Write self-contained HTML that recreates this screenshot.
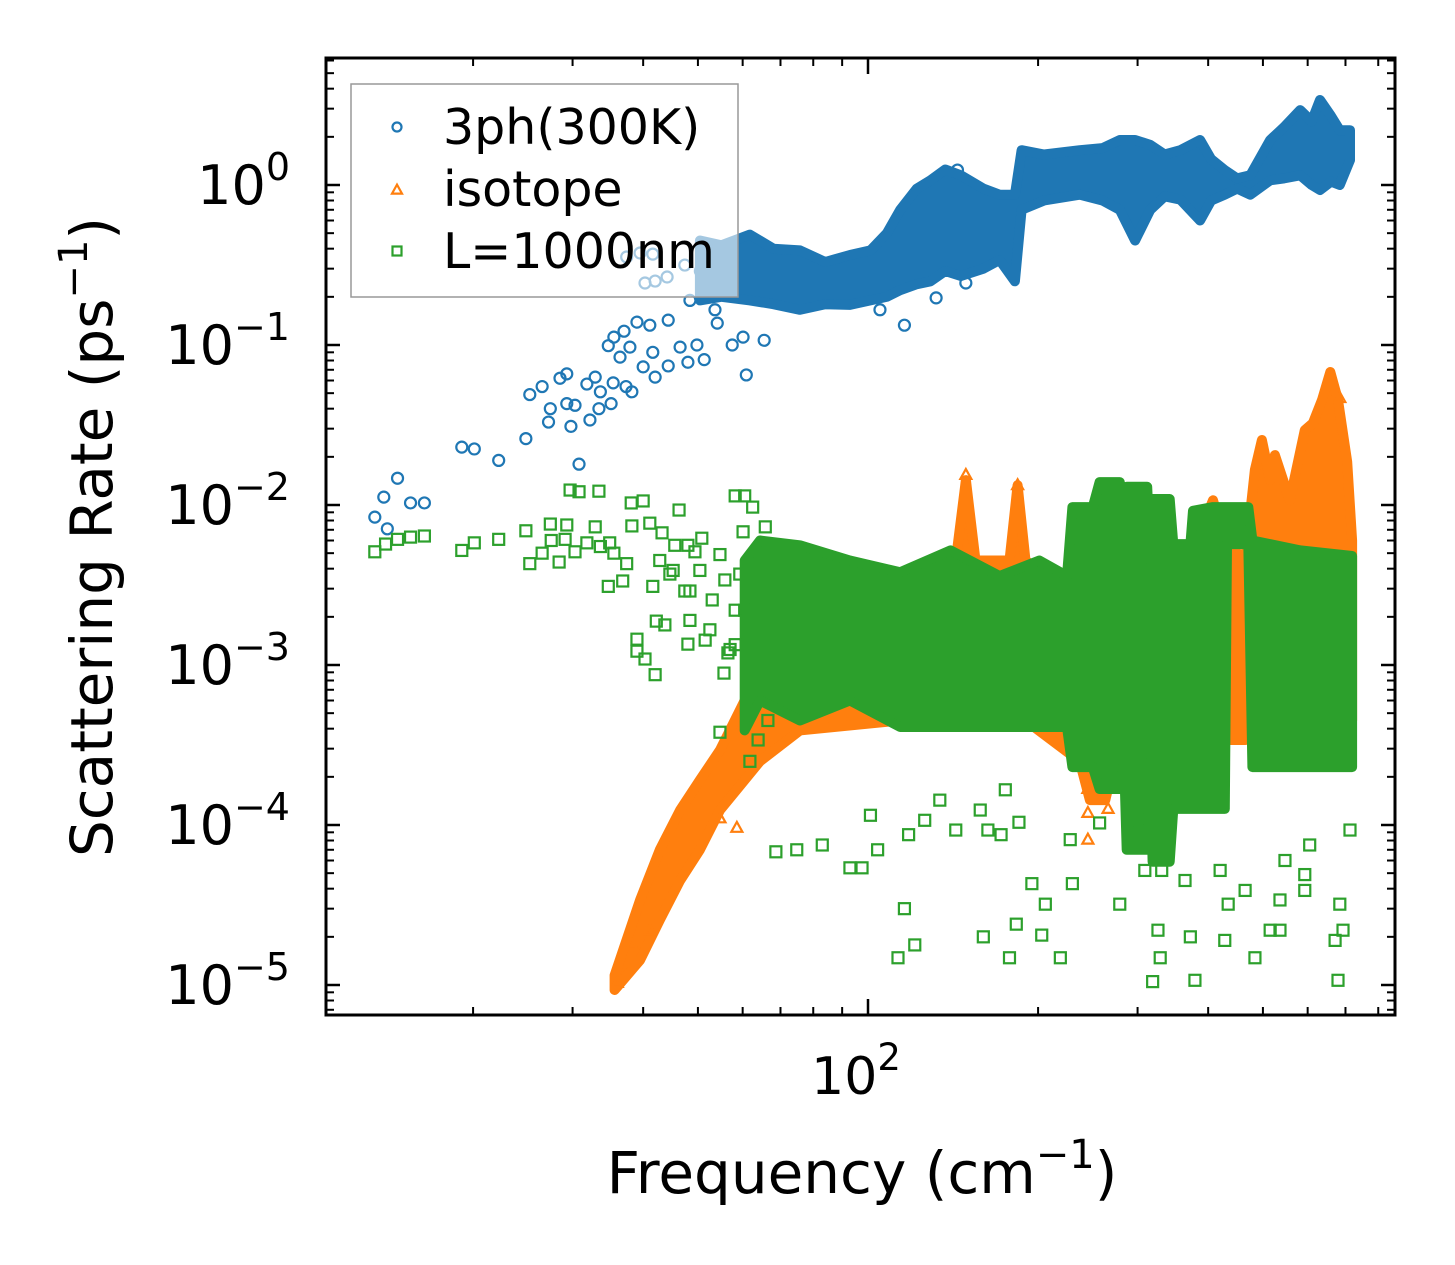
<!DOCTYPE html>
<html><head><meta charset="utf-8"><style>
html,body{margin:0;padding:0;background:#fff;}
svg{display:block;font-family:"DejaVu Sans","Liberation Sans",sans-serif;}
</style></head><body>
<svg id="chart" width="1455" height="1265" viewBox="0 0 1455 1265" xmlns="http://www.w3.org/2000/svg">
<rect width="1455" height="1265" fill="#fff"/>
<g id="plot"></g>
<g id="axes"></g>
<g id="legend"></g>
</svg>
<script>
// ---- tick data ----
const yMajorExps = [0, -1, -2, -3, -4, -5];
const xMajorVals = [100];
const xMinorVals = [20,30,40,50,60,70,80,90,200,300,400,500,600,700,800];

// ---- 3ph(300K): dense band (freq, low, high) ----
const blueBandF  = [50.4,55.0,61.8,68.0,75.8,84.0,92.9,101,108,114,122,129,137,146,160,171,182,187,205,237,260,279,297,316,335,357,387,405,428,450,475,515,545,582,610,631,660,684,713];
const blueBandHi = [0.45,0.42,0.49,0.40,0.39,0.33,0.365,0.39,0.50,0.70,0.95,1.07,1.25,1.15,0.95,0.87,0.87,1.65,1.55,1.65,1.70,1.91,1.91,1.78,1.55,1.65,1.91,1.45,1.24,1.10,1.15,1.91,2.30,2.94,2.50,3.4,2.7,2.2,2.2];
const blueBandLo = [0.19,0.20,0.19,0.18,0.166,0.18,0.178,0.19,0.20,0.22,0.24,0.25,0.29,0.27,0.30,0.34,0.25,0.70,0.80,0.87,0.80,0.70,0.45,0.70,0.85,0.81,0.60,0.80,0.87,0.95,0.87,1.07,1.10,1.15,1.00,0.93,1.05,1.0,1.43];
// ---- 3ph(300K): sparse points ----
const blueF = [13.4,14.1,13.9,14.7,15.5,16.4,19.1,20.1,22.2,24.8,25.2,26.5,30.8,27.2,27.4,29.3,30.3,29.8,32.2,33.4,35.1,28.5,29.3,31.8,32.9,33.6,35.4,37.3,38.2,34.7,35.5,37.0,37.9,40.0,42.0,44.3,48.0,51.3,60.9,57.5,65.5,39.0,41.1,44.3,46.5,49.8,54.1,60.1,36.4,41.6,40.3,42.0,44.1,37.4,39.5,41.6,48.4,51.5,53.6,50.5,47.4,54.7,116,105,132,149,144];
const blueR = [0.0084,0.0071,0.0112,0.0147,0.0103,0.0103,0.023,0.0224,0.019,0.026,0.049,0.055,0.018,0.033,0.040,0.043,0.042,0.031,0.034,0.040,0.043,0.062,0.066,0.057,0.063,0.051,0.058,0.055,0.051,0.099,0.112,0.122,0.097,0.073,0.063,0.074,0.078,0.081,0.065,0.100,0.107,0.139,0.133,0.143,0.097,0.100,0.137,0.112,0.084,0.090,0.244,0.251,0.266,0.355,0.376,0.37,0.19,0.22,0.166,0.29,0.316,0.237,0.133,0.166,0.197,0.244,1.24];

// ---- isotope: dense band ----
const orangeBandF  = [35.6,39.5,42.8,46.5,50.4,54.7,60.5,64.4,75.8,114,143,149,155,178,184,190,237,247,263,273,372,395,408,428,465,484,498,515,525,558,593,613,636,658,679,705,719];
const orangeBandHi = [1.15e-5,3.4e-5,7.0e-5,1.24e-4,1.91e-4,2.94e-4,6.0e-4,1.07e-3,1.43e-3,2.55e-3,4.5e-3,0.0143,4.5e-3,4.5e-3,0.0133,4.5e-3,2.55e-3,1.43e-3,1.91e-3,2.55e-3,2.55e-3,8.1e-3,0.0107,6.0e-3,4.5e-3,0.0166,0.0255,0.0143,0.0205,0.0107,0.0294,0.0325,0.0453,0.0678,0.0453,0.0186,6.0e-3];
const orangeBandLo = [9.3e-6,1.43e-5,2.55e-5,4.5e-5,7.0e-5,1.24e-4,1.91e-4,2.5e-4,3.9e-4,4.5e-4,4.5e-4,4.5e-4,4.5e-4,4.5e-4,4.5e-4,4.5e-4,2.5e-4,1.43e-4,1.43e-4,2.5e-4,2.5e-4,4.5e-4,4.5e-4,3.4e-4,3.4e-4,4.5e-4,4.5e-4,4.5e-4,4.5e-4,4.5e-4,6.0e-4,6.0e-4,6.0e-4,6.0e-4,6.0e-4,4.5e-4,4.5e-4];
// ---- isotope: sparse points ----
const orangeF = [36.0,38.2,41.1,58.6,54.7,245,245,245,266,266,684,149,184];
const orangeR = [1.03e-5,1.78e-5,2.2e-5,9.6e-5,1.1e-4,1.68e-4,1.19e-4,8.1e-5,1.7e-4,1.26e-4,0.0466,0.0154,0.0133];

// ---- L=1000nm: dense band ----
const greenBandF  = [60.5,64.4,75.8,92.9,114,140,171,201,225,230,250,257,279,284,287,312,316,319,342,347,372,376,408,428,432,471,479,582,719];
const greenBandHi = [4.5e-3,6.0e-3,5.6e-3,4.5e-3,3.8e-3,5.2e-3,3.6e-3,4.5e-3,3.6e-3,9.7e-3,9.7e-3,0.0139,0.0139,4.5e-3,0.0130,0.0130,4.5e-3,0.0109,0.0109,5.7e-3,5.7e-3,9.2e-3,9.7e-3,9.7e-3,9.7e-3,9.7e-3,6.0e-3,5.2e-3,4.8e-3];
const greenBandLo = [3.9e-4,6.0e-4,4.5e-4,6.0e-4,4.1e-4,4.1e-4,4.1e-4,4.1e-4,4.1e-4,2.3e-4,2.3e-4,1.68e-4,1.68e-4,2.5e-4,7.0e-5,7.0e-5,2.5e-4,5.9e-5,5.9e-5,1.26e-4,1.26e-4,1.26e-4,1.26e-4,1.26e-4,5.7e-3,5.7e-3,2.3e-4,2.3e-4,2.3e-4];
// ---- L=1000nm: sparse points ----
const greenF = [13.4,14.0,14.7,15.5,16.4,19.1,20.1,22.2,24.8,25.2,26.5,27.4,29.3,29.7,30.8,33.4,27.5,29.1,28.4,30.3,32.9,33.6,31.8,34.9,38.1,40.0,46.3,58.2,60.5,38.2,41.1,43.2,34.7,36.8,41.6,43.7,42.2,39.0,39.0,40.3,42.0,55.6,48.0,56.5,58.2,62.5,65.8,60.1,50.8,48.0,45.2,48.4,52.5,54.7,63.6,35.5,37.4,
  63.9,66.5,61.8,68.7,74.8,83.0,97.6,104,92.9,118,126,143,163,172,185,228,230,195,183,206,178,116,113,121,160,203,219,279,326,329,379,319,309,364,420,484,515,465,536,593,684,693,679,671,536,593,434,372,428,175,158,134,101,257,303,331,547,605,713,
  42.8,44.6,47.4,50.4,53.0,55.8,58.2,48.4,51.5,54.7,59.3,45.5,49.4,57.0,60.5];
const greenR = [5.1e-3,5.7e-3,6.1e-3,6.3e-3,6.4e-3,5.2e-3,5.8e-3,6.1e-3,6.9e-3,4.3e-3,5.0e-3,7.6e-3,7.5e-3,0.0124,0.0121,0.0122,6.0e-3,6.1e-3,4.4e-3,5.1e-3,7.3e-3,5.5e-3,5.8e-3,5.8e-3,0.0103,0.0106,9.3e-3,0.0114,0.0114,7.4e-3,7.7e-3,6.7e-3,3.1e-3,3.35e-3,3.1e-3,1.78e-3,1.88e-3,1.45e-3,1.22e-3,1.09e-3,8.7e-4,8.9e-4,1.35e-3,1.19e-3,1.34e-3,9.7e-3,7.3e-3,6.8e-3,6.2e-3,5.6e-3,3.9e-3,2.9e-3,1.66e-3,3.8e-4,6.0e-4,5.0e-3,4.3e-3,
  3.4e-4,4.5e-4,2.5e-4,6.8e-5,7.0e-5,7.5e-5,5.4e-5,7.0e-5,5.4e-5,8.7e-5,1.07e-4,9.3e-5,9.3e-5,8.7e-5,1.04e-4,8.1e-5,4.3e-5,4.3e-5,2.4e-5,3.2e-5,1.48e-5,3.0e-5,1.48e-5,1.78e-5,2.0e-5,2.05e-5,1.48e-5,3.2e-5,2.2e-5,1.48e-5,1.07e-5,1.05e-5,5.2e-5,4.5e-5,5.2e-5,1.48e-5,2.2e-5,3.9e-5,3.4e-5,3.9e-5,3.2e-5,2.2e-5,1.07e-5,1.9e-5,2.2e-5,4.9e-5,3.2e-5,2.0e-5,1.9e-5,1.66e-4,1.24e-4,1.43e-4,1.15e-4,1.03e-4,1.07e-4,5.2e-5,6.0e-5,7.5e-5,9.3e-5,
  4.5e-3,3.7e-3,2.9e-3,3.9e-3,2.55e-3,3.4e-3,2.2e-3,1.9e-3,1.43e-3,4.9e-3,3.7e-3,5.6e-3,5.1e-3,1.25e-3,2.2e-3];

// ---- axis functions ----
const X0 = 326, X1 = 1395, Y0 = 58, Y1 = 1015;
const PX_PER_DEC_X = 565, PX_PER_DEC_Y = 160;
function xs(f){ return 868 + (Math.log10(f) - 2) * PX_PER_DEC_X; }
function ys(r){ return 185 - Math.log10(r) * PX_PER_DEC_Y; }

const NS = 'http://www.w3.org/2000/svg';
function mk(tag, attrs, parent){
  const e = document.createElementNS(NS, tag);
  for (const k in attrs) e.setAttribute(k, attrs[k]);
  parent.appendChild(e);
  return e;
}
const plot = document.getElementById('plot');
const axes = document.getElementById('axes');
const legend = document.getElementById('legend');

const clip = mk('clipPath', {id:'clipArea'}, document.getElementById('chart'));
mk('rect', {x:X0, y:Y0, width:X1-X0, height:Y1-Y0}, clip);
plot.setAttribute('clip-path', 'url(#clipArea)');

const C_BLUE = '#1f77b4', C_ORANGE = '#ff7f0e', C_GREEN = '#2ca02c';

function band(F, Hi, Lo, color, name){
  let pts = [];
  for (let i = 0; i < F.length; i++) pts.push(xs(F[i]).toFixed(1) + ',' + ys(Hi[i]).toFixed(1));
  for (let i = F.length - 1; i >= 0; i--) pts.push(xs(F[i]).toFixed(1) + ',' + ys(Lo[i]).toFixed(1));
  const p = mk('polygon', {points: pts.join(' '), fill: color, stroke: color, 'stroke-width': 10, 'stroke-linejoin': 'round'}, plot);
  
  
}
function circle(cx, cy, parent, color, r){
  return mk('circle', {cx: cx, cy: cy, r: r, fill: 'none', stroke: color, 'stroke-width': 2.2}, parent);
}
function square(cx, cy, parent, color, s){
  return mk('rect', {x: cx - s/2, y: cy - s/2, width: s, height: s, fill: 'none', stroke: color, 'stroke-width': 2.2}, parent);
}
function tri(cx, cy, parent, color, s){
  const h = s * 0.9;
  return mk('polygon', {points: `${cx},${cy - h*0.6} ${cx - s/2},${cy + h*0.4} ${cx + s/2},${cy + h*0.4}`, fill: 'none', stroke: color, 'stroke-width': 2.2}, parent);
}

// blue series
const gB = mk('g', {}, plot);


band(blueBandF, blueBandHi, blueBandLo, C_BLUE, 'series-3ph-dense-band');
for (let i = 0; i < blueF.length; i++){
  const m = circle(xs(blueF[i]), ys(blueR[i]), gB, C_BLUE, 5.5);
  
  
}
// orange series
band(orangeBandF, orangeBandHi, orangeBandLo, C_ORANGE, 'series-isotope-dense-band');
const gO = mk('g', {}, plot);


for (let i = 0; i < orangeF.length; i++){
  const m = tri(xs(orangeF[i]), ys(orangeR[i]), gO, C_ORANGE, 11);
  
  
}
// green series
band(greenBandF, greenBandHi, greenBandLo, C_GREEN, 'series-boundary-dense-band');
const gG = mk('g', {}, plot);


for (let i = 0; i < greenF.length; i++){
  const m = square(xs(greenF[i]), ys(greenR[i]), gG, C_GREEN, 11);
  
  
}

// ---- axes frame and ticks ----
const frame = mk('rect', {x:X0, y:Y0, width:X1-X0, height:Y1-Y0, fill:'none', stroke:'#000', 'stroke-width':3}, axes);



function line(x1,y1,x2,y2,w){ return mk('line', {x1,y1,x2,y2,stroke:'#000','stroke-width':w}, axes); }
for (let e = -6; e <= 1; e++){
  for (let m = 1; m <= 9; m++){
    const v = m * Math.pow(10, e);
    const y = ys(v);
    if (y < Y0 || y > Y1) continue;
    const L = m === 1 ? 14 : 8, w = m === 1 ? 2.5 : 2;
    const t1 = line(X0, y, X0 + L, y, w);
    
    
    const t2 = line(X1, y, X1 - L, y, w);
    
    
  }
}
for (const e of yMajorExps){
  const y = ys(Math.pow(10, e));
  const t = mk('text', {x: 290, y: y + 19, 'text-anchor': 'end', 'font-size': 54, fill: '#000'}, axes);
  
  
  const a = mk('tspan', {}, t); a.textContent = '10';
  const b = mk('tspan', {dy: -24, 'font-size': 38}, t); b.textContent = e === 0 ? '0' : '\u2212' + Math.abs(e);
}
for (const v of xMinorVals){
  const x = xs(v);
  const a = line(x, Y1, x, Y1 - 8, 2);
  
  
  const b = line(x, Y0, x, Y0 + 8, 2);
  
  
}
for (const v of xMajorVals){
  const x = xs(v);
  const a = line(x, Y1, x, Y1 - 16, 2.5);
  
  
  const b = line(x, Y0, x, Y0 + 16, 2.5);
  
  
  const t = mk('text', {x: x - 12, y: 1094, 'text-anchor': 'middle', 'font-size': 52, fill: '#000'}, axes);
  
  
  const s1 = mk('tspan', {}, t); s1.textContent = '10';
  const s2 = mk('tspan', {dy: -24, 'font-size': 37}, t); s2.textContent = Math.round(Math.log10(v));
}
const xt = mk('text', {x: 862, y: 1193, 'text-anchor': 'middle', 'font-size': 58, fill: '#000'}, axes);


mk('tspan', {}, xt).textContent = 'Frequency (cm';
mk('tspan', {dy: -25, 'font-size': 40}, xt).textContent = '\u22121';
mk('tspan', {dy: 25}, xt).textContent = ')';

const yt = mk('text', {x: 0, y: 0, 'text-anchor': 'middle', 'font-size': 58, fill: '#000', transform: 'translate(112,537) rotate(-90)'}, axes);


mk('tspan', {}, yt).textContent = 'Scattering Rate (ps';
mk('tspan', {dy: -25, 'font-size': 40}, yt).textContent = '\u22121';
mk('tspan', {dy: 25}, yt).textContent = ')';

// ---- legend ----
const lb = mk('rect', {x: 351, y: 84, width: 387, height: 213, fill: 'rgba(255,255,255,0.6)', stroke: '#999', 'stroke-width': 1.5}, legend);


const legendLabels = ['3ph(300K)', 'isotope', 'L=1000nm'];
const legendY = [127, 189, 251];
for (let i = 0; i < 3; i++){
  const g = mk('g', {}, legend);
  
  
  if (i === 0) circle(397, legendY[i], g, C_BLUE, 4.5);
  if (i === 1) tri(397, legendY[i] + 1, g, C_ORANGE, 10);
  if (i === 2) square(397, legendY[i], g, C_GREEN, 9);
  const t = mk('text', {x: 443, y: legendY[i] + 17, 'font-size': 49, fill: '#000'}, g);
  t.textContent = legendLabels[i];
}
</script>
</body></html>
